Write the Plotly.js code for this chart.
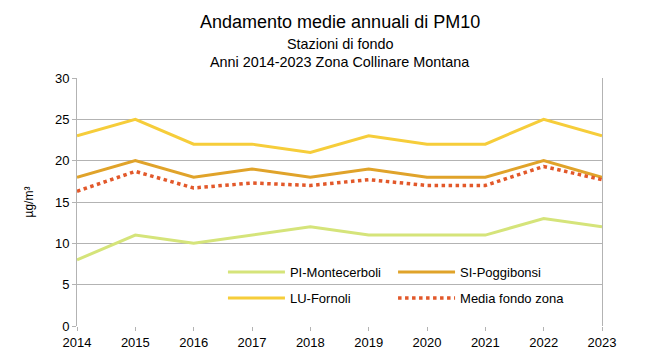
<!DOCTYPE html>
<html>
<head>
<meta charset="utf-8">
<script src="https://cdn.plot.ly/plotly-3.0.1.min.js"></script>
<style>html,body{margin:0;padding:0;background:#fff;}#chart{width:656px;height:359px;}</style>
</head>
<body>
<div id="chart"></div>
<script>
const years = [2014, 2015, 2016, 2017, 2018, 2019, 2020, 2021, 2022, 2023];
const piMontecerboli = [8, 11, 10, 11, 12, 11, 11, 11, 13, 12];
const siPoggibonsi = [18, 20, 18, 19, 18, 19, 18, 18, 20, 18];
const luFornoli = [23, 25, 22, 22, 21, 23, 22, 22, 25, 23];
const mediaFondo = [16.3, 18.7, 16.7, 17.3, 17.0, 17.7, 17.0, 17.0, 19.3, 17.7];
const yTicks = [0, 5, 10, 15, 20, 25, 30];
const titleLines = ["Andamento medie annuali di PM10", "Stazioni di fondo", "Anni 2014-2023 Zona Collinare Montana"];

const font = "Liberation Sans, Arial, sans-serif";
const traces = [
  {x: years, y: piMontecerboli, name: "PI-Montecerboli", mode: "lines", line: {color: "#d5e47a", width: 3}, legend: "legend"},
  {x: years, y: siPoggibonsi, name: "SI-Poggibonsi", mode: "lines", line: {color: "#e0a32a", width: 3}, legend: "legend2"},
  {x: years, y: luFornoli, name: "LU-Fornoli", mode: "lines", line: {color: "#f6cd3a", width: 3}, legend: "legend3"},
  {x: years, y: mediaFondo, name: "Media fondo zona", mode: "lines", line: {color: "#e2582a", width: 3.5, dash: "dot"}, legend: "legend4"}
];

const legendBase = {
  orientation: "v", xanchor: "left", yanchor: "middle",
  bgcolor: "rgba(0,0,0,0)", borderwidth: 0, itemwidth: 57,
  font: {family: font, size: 13, color: "#000"}
};
const row1 = 0.218, row2 = 0.113, col1 = 0.278, col2 = 0.602;

const layout = {
  width: 656, height: 359,
  margin: {l: 77, r: 54, t: 78, b: 33},
  paper_bgcolor: "#fff", plot_bgcolor: "#fff",
  font: {family: font, color: "#000", size: 13},
  showlegend: true,
  annotations: [
    {text: titleLines[0], xref: "paper", yref: "paper", x: 0.5, y: 1.226, xanchor: "center", yanchor: "middle", showarrow: false, font: {family: font, size: 18, color: "#000"}},
    {text: titleLines[1], xref: "paper", yref: "paper", x: 0.5, y: 1.137, xanchor: "center", yanchor: "middle", showarrow: false, font: {family: font, size: 14.4, color: "#000"}},
    {text: titleLines[2], xref: "paper", yref: "paper", x: 0.5, y: 1.065, xanchor: "center", yanchor: "middle", showarrow: false, font: {family: font, size: 14.4, color: "#000"}}
  ],
  xaxis: {
    range: [2014, 2023], tickvals: years, ticktext: years.map(String),
    showgrid: false, zeroline: false, showline: false,
    ticks: "outside", ticklen: 4, tickcolor: "#b3b3b3",
    tickfont: {family: font, size: 13, color: "#000"}, fixedrange: true
  },
  yaxis: {
    range: [0, 30], tickvals: yTicks,
    showgrid: true, gridcolor: "#b3b3b3", gridwidth: 1,
    zeroline: false, showline: true, linecolor: "#b3b3b3", linewidth: 1, mirror: true,
    ticks: "outside", ticklen: 4, tickcolor: "#b3b3b3",
    tickfont: {family: font, size: 13, color: "#000"},
    title: {text: "µg/m³", font: {family: font, size: 12, color: "#000"}, standoff: 18}
  },
  legend: Object.assign({}, legendBase, {x: col1, y: row1}),
  legend2: Object.assign({}, legendBase, {x: col2, y: row1}),
  legend3: Object.assign({}, legendBase, {x: col1, y: row2}),
  legend4: Object.assign({}, legendBase, {x: col2, y: row2})
};

Plotly.newPlot("chart", traces, layout, {displayModeBar: false, staticPlot: true});
</script>
</body>
</html>
